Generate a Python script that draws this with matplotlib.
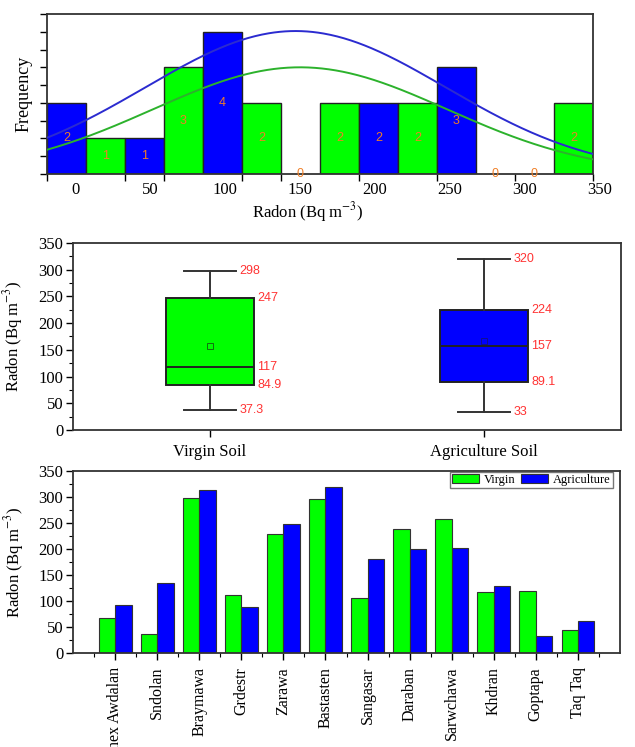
import numpy as np
import matplotlib
matplotlib.use("Agg")
import matplotlib.pyplot as plt

# ---------------- Data ----------------
# (a) histogram of radon concentrations
hist_counts = [2, 1, 1, 3, 4, 2, 0, 2, 2, 2, 3, 0, 0, 2]
hist_series = ["A", "V", "A", "V", "A", "V", "-", "V", "A", "V", "A", "-", "-", "V"]
hist_tick_labels = [0, 50, 100, 150, 200, 250, 300, 350]
hist_bin_start = -18.7
hist_bin_width = 26.0
# fitted normal curves (mean, sd, peak height)
fit_agri = (147.0, 100.0, 4.02)
fit_virgin = (150.0, 98.0, 3.0)

# (b) box plot statistics
box_categories = ["Virgin Soil", "Agriculture Soil"]
box_whislo = [37.3, 33]
box_q1 = [84.9, 89.1]
box_med = [117, 157]
box_q3 = [247, 224]
box_whishi = [298, 320]
box_mean = [158, 166]

# (c) site values
sites = ["Shex Awdalan", "Sndolan", "Braymawa", "Grdestr", "Zarawa", "Bastasten",
         "Sangasar", "Daraban", "Sarwchawa", "Khdran", "Goptapa", "Taq Taq"]
virgin_vals = [67, 37.3, 298, 112, 228, 297, 106, 238, 257, 117, 120, 45]
agri_vals = [92, 135, 313, 88, 248, 320, 181, 201, 202, 128, 33, 61]

# ---------------- Style ----------------
GREEN = "#00FF00"
BLUE = "#0000FF"
SERIF = ["Liberation Serif", "DejaVu Serif"]
SANS = ["Liberation Sans", "DejaVu Sans"]
plt.rcParams["font.family"] = SERIF
plt.rcParams["mathtext.fontset"] = "stix"
plt.rcParams["axes.linewidth"] = 1.3
plt.rcParams["axes.edgecolor"] = "#333333"

fig = plt.figure(figsize=(6.35, 7.47), dpi=100)

# ======== (a) histogram ========
ax1 = fig.add_axes([0.0740, 0.7671, 0.8598, 0.2142])
n_bins = len(hist_counts)
edges = hist_bin_start + hist_bin_width * np.arange(n_bins + 1)
centers = edges[:-1] + hist_bin_width / 2
col_map = {"A": BLUE, "V": GREEN, "-": "none"}
for c, h, s in zip(centers, hist_counts, hist_series):
    if h > 0:
        ax1.bar(c, h, width=hist_bin_width, color=col_map[s], edgecolor="#222222",
                linewidth=1.0, zorder=2)
    ax1.text(c, h / 2.0, str(h), ha="center", va="center", color="#F07E26",
             fontsize=9, family=SANS, zorder=4)

xs = np.linspace(edges[0], edges[-1], 400)
for (mu, sd, pk), colr in [(fit_agri, "#2B2BD0"), (fit_virgin, "#2CB22C")]:
    ax1.plot(xs, pk * np.exp(-(xs - mu) ** 2 / (2 * sd ** 2)), color=colr, lw=1.4, zorder=3)

ax1.set_xlim(edges[0], edges[-1])
ax1.set_ylim(0, 4.5)
ax1.set_yticks(np.arange(0, 4.51, 0.5))
ax1.set_yticklabels([])
ax1.tick_params(axis="y", direction="out", length=5, width=1.0, right=False)
ax1.set_xticks(edges[[0, 2, 3, 5, 6, 8, 10, 12, 14]])
ax1.set_xticklabels([])
ax1.tick_params(axis="x", direction="out", length=5, width=1.0, top=False)
trans = ax1.get_xaxis_transform()
for v in hist_tick_labels:
    ax1.text(v, -0.05, str(v), transform=trans, ha="center", va="top",
             fontsize=12, clip_on=False)
ax1.set_xlabel("Radon (Bq m$^{-3}$)", fontsize=12)
ax1.xaxis.set_label_coords(0.478, -0.165)
ax1.set_ylabel("Frequency", fontsize=13)
ax1.yaxis.set_label_coords(-0.027, 0.5)

# ======== (b) box plot ========
ax2 = fig.add_axes([0.115, 0.4244, 0.863, 0.2503])
stats = []
for i in range(len(box_categories)):
    stats.append(dict(whislo=box_whislo[i], q1=box_q1[i], med=box_med[i],
                      q3=box_q3[i], whishi=box_whishi[i], mean=box_mean[i],
                      fliers=[], label=box_categories[i]))
box_w = 0.32
cap_w = 0.19
positions = [1, 2]
bp = ax2.bxp(stats, positions=positions, widths=box_w, capwidths=[cap_w, cap_w],
             patch_artist=True, showmeans=True, showfliers=False,
             boxprops=dict(linewidth=1.4, edgecolor="#222222"),
             medianprops=dict(color="#222222", linewidth=1.4),
             whiskerprops=dict(color="#333333", linewidth=1.4),
             capprops=dict(color="#333333", linewidth=1.4),
             meanprops=dict(marker="s", markersize=4, markerfacecolor="none",
                            markeredgewidth=0.7))
box_cols = [GREEN, BLUE]
mean_edge = ["#107010", "#101090"]
for patch, c in zip(bp["boxes"], box_cols):
    patch.set_facecolor(c)
for m, e in zip(bp["means"], mean_edge):
    m.set_markeredgecolor(e)

for i, p in enumerate(positions):
    for val, dx in [(box_whishi[i], cap_w / 2), (box_q3[i], box_w / 2),
                    (box_med[i], box_w / 2), (box_q1[i], box_w / 2),
                    (box_whislo[i], cap_w / 2)]:
        ax2.annotate(f"{val:g}", xy=(p + dx, val), xytext=(2.5, 0),
                     textcoords="offset points", ha="left", va="center",
                     color="#FF3333", fontsize=9, family=SANS)

ax2.set_xlim(0.5, 2.5)
ax2.set_ylim(0, 350)
ax2.set_yticks(np.arange(0, 351, 50))
ax2.set_yticks(np.arange(0, 351, 25), minor=True)
ax2.set_xticks(positions)
ax2.set_xticklabels(box_categories, fontsize=12)
ax2.tick_params(axis="y", which="major", direction="out", length=5, width=1.0, pad=2, labelsize=12)
ax2.tick_params(axis="y", which="minor", direction="out", length=3, width=0.8)
ax2.tick_params(axis="x", direction="out", length=5, width=1.0, pad=5)
ax2.set_ylabel("Radon (Bq m$^{-3}$)", fontsize=12)
ax2.yaxis.set_label_coords(-0.088, 0.5)

# ======== (c) grouped bars ========
ax3 = fig.add_axes([0.115, 0.1258, 0.8614, 0.2436])
x = np.arange(1, len(sites) + 1)
bw = 0.39
ax3.bar(x - bw / 2, virgin_vals, width=bw, color=GREEN, edgecolor="#333333",
        linewidth=0.8, label="Virgin", zorder=2)
ax3.bar(x + bw / 2, agri_vals, width=bw, color=BLUE, edgecolor="#333333",
        linewidth=0.8, label="Agriculture", zorder=2)
ax3.set_xlim(0, len(sites) + 1)
ax3.set_ylim(0, 350)
ax3.set_yticks(np.arange(0, 351, 50))
ax3.set_yticks(np.arange(0, 351, 25), minor=True)
ax3.set_xticks(x)
ax3.set_xticks(np.arange(0.5, len(sites) + 1, 1.0), minor=True)
ax3.set_xticklabels(sites, rotation=90, fontsize=11.5)
ax3.tick_params(axis="y", which="major", direction="out", length=5, width=1.0, pad=2, labelsize=12)
ax3.tick_params(axis="y", which="minor", direction="out", length=3, width=0.8)
ax3.tick_params(axis="x", which="major", direction="out", length=5, width=1.0, pad=5)
ax3.tick_params(axis="x", which="minor", direction="out", length=3, width=0.8)
ax3.set_ylabel("Radon (Bq m$^{-3}$)", fontsize=12)
ax3.yaxis.set_label_coords(-0.086, 0.5)
leg = ax3.legend(loc="upper right", bbox_to_anchor=(0.988, 1.0), ncol=2, fontsize=9,
                 frameon=True, fancybox=False, edgecolor="#555555",
                 borderaxespad=0.05, borderpad=0.15, handlelength=2.2,
                 handleheight=0.8, handletextpad=0.4, columnspacing=0.4)
leg.get_frame().set_linewidth(1.0)

fig.savefig("out.png", dpi=100)
